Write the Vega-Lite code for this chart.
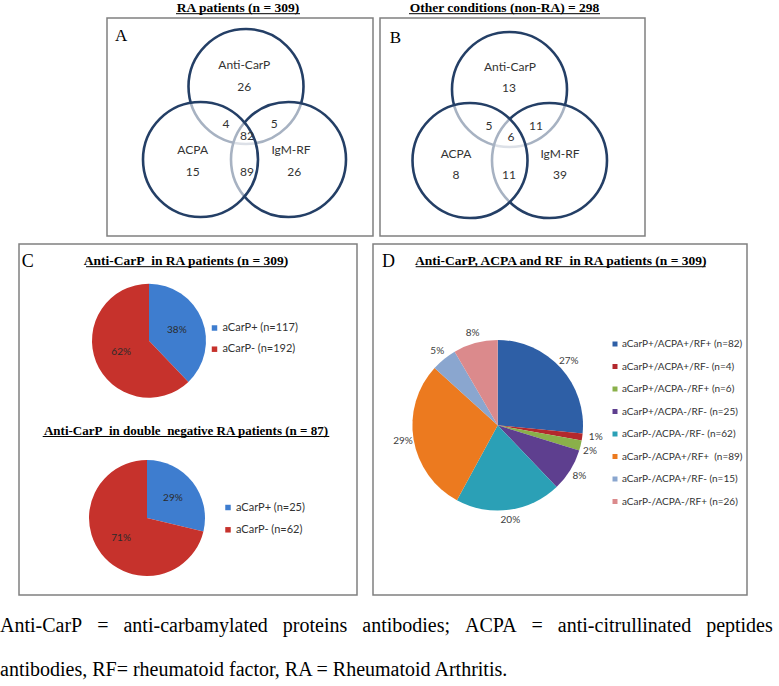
{
  "$schema": "https://vega.github.io/schema/vega-lite/v6.json",
  "padding": 0,
  "background": "white",
  "config": {"view": {"stroke": null}, "axis": {"disable": true}, "font": "Liberation Sans"},
  "spacing": 0,
  "resolve": {"scale": {"color": "independent", "theta": "independent"}},
  "vconcat": [
    {
      "width": 779, "height": 16,
      "data": {"values": [{}]},
      "layer": [
        {"mark": {"type": "text", "text": "RA patients (n = 309)", "font": "Liberation Serif", "fontWeight": "bold", "fontSize": 13.5, "baseline": "alphabetic", "color": "black"},
         "encoding": {"x": {"datum": 238, "scale": {"domain": [0, 779], "nice": false, "zero": false}}, "y": {"datum": 10.7, "scale": {"domain": [0, 16], "nice": false, "zero": false, "reverse": true}}}},
        {"mark": {"type": "text", "text": "Other conditions (non-RA) = 298", "font": "Liberation Serif", "fontWeight": "bold", "fontSize": 13.5, "baseline": "alphabetic", "color": "black"},
         "encoding": {"x": {"datum": 504.5}, "y": {"datum": 10.7}}},
        {"mark": {"type": "rule", "color": "black", "strokeWidth": 1},
         "encoding": {"x": {"datum": 176}, "x2": {"datum": 300}, "y": {"datum": 12.7}}},
        {"mark": {"type": "rule", "color": "black", "strokeWidth": 1},
         "encoding": {"x": {"datum": 409}, "x2": {"datum": 600}, "y": {"datum": 12.7}}}
      ]
    },
    {
      "spacing": 6,
      "resolve": {"scale": {"color": "independent", "theta": "independent"}},
      "vconcat": [
        {
          "spacing": 5,
          "hconcat": [
            {"width": 101, "height": 218, "data": {"values": [{}]}, "mark": {"type": "text", "text": ""}},
            {
              "width": 266, "height": 218,
              "view": {"stroke": "#808080", "strokeWidth": 1.5},
              "layer": [
                {"data": {"values": [
                  {"set": "Anti-CarP", "cx": 139, "cy": 68.5},
                  {"set": "IgM-RF", "cx": 181.5, "cy": 141.5},
                  {"set": "ACPA", "cx": 93.5, "cy": 141.5}]},
                 "mark": {"type": "point", "shape": "circle", "filled": true, "size": 13225, "fill": "white", "fillOpacity": 0.6, "stroke": "#243f66", "strokeWidth": 2.6, "opacity": 1},
                 "encoding": {"x": {"field": "cx", "type": "quantitative", "scale": {"domain": [0, 266], "nice": false, "zero": false}},
                              "y": {"field": "cy", "type": "quantitative", "scale": {"domain": [0, 218], "nice": false, "zero": false, "reverse": true}}}},
                {"data": {"values": [
                  {"t": "Anti-CarP", "lx": 137.3, "ly": 47.3},
                  {"t": "26", "lx": 137.3, "ly": 69},
                  {"t": "4", "lx": 119, "ly": 105.7},
                  {"t": "5", "lx": 167.3, "ly": 105.7},
                  {"t": "82", "lx": 140, "ly": 118},
                  {"t": "ACPA", "lx": 85.7, "ly": 132.3},
                  {"t": "15", "lx": 85.7, "ly": 154},
                  {"t": "IgM-RF", "lx": 184, "ly": 132.3},
                  {"t": "26", "lx": 187.3, "ly": 154},
                  {"t": "89", "lx": 140, "ly": 154}]},
                 "mark": {"type": "text", "font": "Lato", "fontSize": 12, "color": "#333333", "baseline": "middle"},
                 "encoding": {"x": {"field": "lx", "type": "quantitative"}, "y": {"field": "ly", "type": "quantitative"}, "text": {"field": "t"}}},
                {"data": {"values": [{}]},
                 "mark": {"type": "text", "text": "A", "font": "Liberation Serif", "fontSize": 17, "align": "left", "baseline": "alphabetic", "color": "black"},
                 "encoding": {"x": {"datum": 8}, "y": {"datum": 23}}}
              ]
            },
            {
              "width": 265, "height": 218,
              "view": {"stroke": "#808080", "strokeWidth": 1.5},
              "layer": [
                {"data": {"values": [
                  {"set": "Anti-CarP", "cx": 129.5, "cy": 71.5},
                  {"set": "IgM-RF", "cx": 169.5, "cy": 142.5},
                  {"set": "ACPA", "cx": 90, "cy": 142.5}]},
                 "mark": {"type": "point", "shape": "circle", "filled": true, "size": 13225, "fill": "white", "fillOpacity": 0.6, "stroke": "#243f66", "strokeWidth": 2.6, "opacity": 1},
                 "encoding": {"x": {"field": "cx", "type": "quantitative", "scale": {"domain": [0, 265], "nice": false, "zero": false}},
                              "y": {"field": "cy", "type": "quantitative", "scale": {"domain": [0, 218], "nice": false, "zero": false, "reverse": true}}}},
                {"data": {"values": [
                  {"t": "Anti-CarP", "lx": 130, "ly": 49},
                  {"t": "13", "lx": 129, "ly": 70},
                  {"t": "5", "lx": 109, "ly": 108},
                  {"t": "11", "lx": 156, "ly": 108},
                  {"t": "6", "lx": 131, "ly": 119},
                  {"t": "ACPA", "lx": 76, "ly": 136},
                  {"t": "8", "lx": 76, "ly": 157},
                  {"t": "11", "lx": 129, "ly": 157},
                  {"t": "IgM-RF", "lx": 180, "ly": 136},
                  {"t": "39", "lx": 180, "ly": 157}]},
                 "mark": {"type": "text", "font": "Lato", "fontSize": 12, "color": "#333333", "baseline": "middle"},
                 "encoding": {"x": {"field": "lx", "type": "quantitative"}, "y": {"field": "ly", "type": "quantitative"}, "text": {"field": "t"}}},
                {"data": {"values": [{}]},
                 "mark": {"type": "text", "text": "B", "font": "Liberation Serif", "fontSize": 17, "align": "left", "baseline": "alphabetic", "color": "black"},
                 "encoding": {"x": {"datum": 9.7}, "y": {"datum": 24.7}}}
              ]
            }
          ]
        },
        {
          "spacing": 14,
          "resolve": {"scale": {"color": "independent", "theta": "independent"}},
          "hconcat": [
            {"width": 4, "height": 351, "data": {"values": [{}]}, "mark": {"type": "text", "text": ""}},
            {
              "width": 338, "height": 351,
              "view": {"stroke": "#808080", "strokeWidth": 1.5},
              "resolve": {"scale": {"theta": "independent", "color": "independent"}},
              "layer": [
                {"data": {"values": [{}]},
                 "mark": {"type": "text", "text": "C", "font": "Liberation Serif", "fontSize": 18, "align": "left", "baseline": "alphabetic", "color": "black"},
                 "encoding": {"x": {"datum": 2.7, "scale": {"domain": [0, 338], "nice": false, "zero": false}}, "y": {"datum": 22.7, "scale": {"domain": [0, 351], "nice": false, "zero": false, "reverse": true}}}},
                {"data": {"values": [{}]},
                 "mark": {"type": "text", "text": "Anti-CarP\u00a0 in RA patients (n = 309)", "font": "Liberation Serif", "fontWeight": "bold", "fontSize": 13.5, "baseline": "alphabetic", "color": "black"},
                 "encoding": {"x": {"datum": 167}, "y": {"datum": 20.7}}},
                {"data": {"values": [{}]},
                 "mark": {"type": "rule", "color": "black", "strokeWidth": 1},
                 "encoding": {"x": {"datum": 67}, "x2": {"datum": 267}, "y": {"datum": 22.7}}},
                {"data": {"values": [{}]},
                 "mark": {"type": "text", "text": "Anti-CarP\u00a0 in double\u00a0 negative RA patients (n = 87)", "font": "Liberation Serif", "fontWeight": "bold", "fontSize": 13, "baseline": "alphabetic", "color": "black"},
                 "encoding": {"x": {"datum": 167}, "y": {"datum": 190.7}}},
                {"data": {"values": [{}]},
                 "mark": {"type": "rule", "color": "black", "strokeWidth": 1},
                 "encoding": {"x": {"datum": 23.7}, "x2": {"datum": 310.3}, "y": {"datum": 192.5}}},
                {"data": {"values": [
                  {"i": 1, "label": "aCarP+ (n=117)", "n": 117, "pct": "38%"},
                  {"i": 2, "label": "aCarP- (n=192)", "n": 192, "pct": "62%"}]},
                 "layer": [
                   {"mark": {"type": "arc", "radius": 57},
                    "encoding": {
                      "theta": {"field": "n", "type": "quantitative", "stack": true},
                      "order": {"field": "i"},
                      "color": {"field": "label", "type": "nominal",
                                "scale": {"domain": ["aCarP+ (n=117)", "aCarP- (n=192)"], "range": ["#3e7dcf", "#c6322c"]},
                                "legend": {"orient": "none", "legendX": 190, "legendY": 78.5, "title": null, "symbolType": "square", "symbolSize": 30, "symbolStrokeWidth": 0, "labelFont": "Lato", "labelFontSize": 11, "labelColor": "#333333", "rowPadding": 9.2, "labelOffset": 2.5, "padding": 0}},
                      "x": {"datum": 130}, "y": {"datum": 96.7}}},
                   {"mark": {"type": "text", "radius": 30, "font": "Lato", "fontSize": 10, "color": "#2b2b2b"},
                    "encoding": {
                      "theta": {"field": "n", "type": "quantitative", "stack": true},
                      "order": {"field": "i"},
                      "text": {"field": "pct"},
                      "x": {"datum": 130}, "y": {"datum": 96.7}}}
                 ]},
                {"data": {"values": [
                  {"i": 1, "label": "aCarP+ (n=25)", "n": 25, "pct": "29%"},
                  {"i": 2, "label": "aCarP- (n=62)", "n": 62, "pct": "71%"}]},
                 "layer": [
                   {"mark": {"type": "arc", "radius": 58},
                    "encoding": {
                      "theta": {"field": "n", "type": "quantitative", "stack": true},
                      "order": {"field": "i"},
                      "color": {"field": "label", "type": "nominal",
                                "scale": {"domain": ["aCarP+ (n=25)", "aCarP- (n=62)"], "range": ["#3e7dcf", "#c6322c"]},
                                "legend": {"orient": "none", "legendX": 203.5, "legendY": 258, "title": null, "symbolType": "square", "symbolSize": 30, "symbolStrokeWidth": 0, "labelFont": "Lato", "labelFontSize": 11, "labelColor": "#333333", "rowPadding": 10.3, "labelOffset": 2.5, "padding": 0}},
                      "x": {"datum": 128}, "y": {"datum": 274}}},
                   {"mark": {"type": "text", "radius": 33, "font": "Lato", "fontSize": 10, "color": "#2b2b2b"},
                    "encoding": {
                      "theta": {"field": "n", "type": "quantitative", "stack": true},
                      "order": {"field": "i"},
                      "text": {"field": "pct"},
                      "x": {"datum": 128}, "y": {"datum": 274}}}
                 ]}
              ]
            },
            {
              "width": 374, "height": 351,
              "view": {"stroke": "#808080", "strokeWidth": 1.5},
              "resolve": {"scale": {"theta": "independent", "color": "independent"}},
              "layer": [
                {"data": {"values": [{}]},
                 "mark": {"type": "text", "text": "D", "font": "Liberation Serif", "fontSize": 18, "align": "left", "baseline": "alphabetic", "color": "black"},
                 "encoding": {"x": {"datum": 9, "scale": {"domain": [0, 374], "nice": false, "zero": false}}, "y": {"datum": 22.7, "scale": {"domain": [0, 351], "nice": false, "zero": false, "reverse": true}}}},
                {"data": {"values": [{}]},
                 "mark": {"type": "text", "text": "Anti-CarP, ACPA and RF\u00a0 in RA patients (n = 309)", "font": "Liberation Serif", "fontWeight": "bold", "fontSize": 13.5, "baseline": "alphabetic", "color": "black"},
                 "encoding": {"x": {"datum": 187.7}, "y": {"datum": 20.7}}},
                {"data": {"values": [{}]},
                 "mark": {"type": "rule", "color": "black", "strokeWidth": 1},
                 "encoding": {"x": {"datum": 42.7}, "x2": {"datum": 332.7}, "y": {"datum": 22.7}}},
                {"data": {"values": [
                  {"i": 1, "label": "aCarP+/ACPA+/RF+ (n=82)", "n": 82, "pct": "27%"},
                  {"i": 2, "label": "aCarP+/ACPA+/RF- (n=4)", "n": 4, "pct": "1%"},
                  {"i": 3, "label": "aCarP+/ACPA-/RF+ (n=6)", "n": 6, "pct": "2%"},
                  {"i": 4, "label": "aCarP+/ACPA-/RF- (n=25)", "n": 25, "pct": "8%"},
                  {"i": 5, "label": "aCarP-/ACPA-/RF- (n=62)", "n": 62, "pct": "20%"},
                  {"i": 6, "label": "aCarP-/ACPA+/RF+\u00a0 (n=89)", "n": 89, "pct": "29%"},
                  {"i": 7, "label": "aCarP-/ACPA+/RF- (n=15)", "n": 15, "pct": "5%"},
                  {"i": 8, "label": "aCarP-/ACPA-/RF+ (n=26)", "n": 26, "pct": "8%"}]},
                 "layer": [
                   {"mark": {"type": "arc", "radius": 85.3},
                    "encoding": {
                      "theta": {"field": "n", "type": "quantitative", "stack": true},
                      "order": {"field": "i"},
                      "color": {"field": "label", "type": "nominal",
                                "scale": {"domain": ["aCarP+/ACPA+/RF+ (n=82)", "aCarP+/ACPA+/RF- (n=4)", "aCarP+/ACPA-/RF+ (n=6)", "aCarP+/ACPA-/RF- (n=25)", "aCarP-/ACPA-/RF- (n=62)", "aCarP-/ACPA+/RF+\u00a0 (n=89)", "aCarP-/ACPA+/RF- (n=15)", "aCarP-/ACPA-/RF+ (n=26)"],
                                          "range": ["#2e5fa6", "#b3282d", "#8ab04a", "#5e3f8f", "#2ba0b6", "#ec7a1f", "#8aa6cf", "#db8a8c"]},
                                "legend": {"orient": "none", "legendX": 237, "legendY": 95, "title": null, "symbolType": "square", "symbolSize": 25, "symbolStrokeWidth": 0, "labelFont": "Lato", "labelFontSize": 10, "labelColor": "#333333", "rowPadding": 12.5, "labelOffset": 2, "padding": 0}},
                      "x": {"datum": 124.7}, "y": {"datum": 181.3}}},
                   {"mark": {"type": "text", "radius": 96, "font": "Lato", "fontSize": 10, "color": "#404040"},
                    "encoding": {
                      "theta": {"field": "n", "type": "quantitative", "stack": true},
                      "order": {"field": "i"},
                      "text": {"condition": {"test": "datum.i == 2 || datum.i == 3", "value": ""}, "field": "pct"},
                      "x": {"datum": 124.7}, "y": {"datum": 181.3}}},
                   {"mark": {"type": "text", "radius": 99, "dy": -1.5, "font": "Lato", "fontSize": 10, "color": "#404040"},
                    "encoding": {
                      "theta": {"field": "n", "type": "quantitative", "stack": true},
                      "order": {"field": "i"},
                      "text": {"condition": {"test": "datum.i == 2", "field": "pct"}, "value": ""},
                      "x": {"datum": 124.7}, "y": {"datum": 181.3}}},
                   {"mark": {"type": "text", "radius": 95, "dy": 3, "font": "Lato", "fontSize": 10, "color": "#404040"},
                    "encoding": {
                      "theta": {"field": "n", "type": "quantitative", "stack": true},
                      "order": {"field": "i"},
                      "text": {"condition": {"test": "datum.i == 3", "field": "pct"}, "value": ""},
                      "x": {"datum": 124.7}, "y": {"datum": 181.3}}}
                 ]}
              ]
            }
          ]
        },
        {
          "width": 779, "height": 89,
          "data": {"values": [
            {"line": 1, "text": "Anti-CarP\u00a0\u00a0\u00a0=\u00a0\u00a0\u00a0anti-carbamylated\u00a0\u00a0\u00a0proteins\u00a0\u00a0\u00a0antibodies;\u00a0\u00a0\u00a0ACPA\u00a0\u00a0\u00a0=\u00a0\u00a0\u00a0anti-citrullinated\u00a0\u00a0\u00a0peptides"},
            {"line": 2, "text": "antibodies, RF= rheumatoid factor, RA = Rheumatoid Arthritis."}]},
          "mark": {"type": "text", "align": "left", "baseline": "middle", "font": "Liberation Serif", "fontSize": 20, "color": "black"},
          "encoding": {
            "x": {"datum": 0, "scale": {"domain": [0, 779], "nice": false, "zero": false}},
            "y": {"field": "line", "type": "quantitative", "scale": {"domain": [0.4545, 2.4773], "nice": false, "zero": false, "reverse": true}},
            "text": {"field": "text"}}
        }
      ]
    }
  ]
}
